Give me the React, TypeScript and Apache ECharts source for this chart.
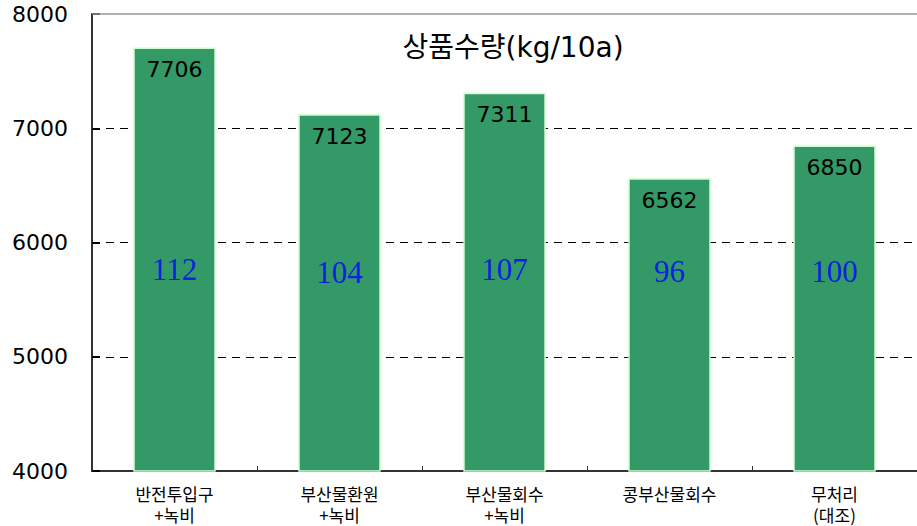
import React, { useEffect, useRef } from "react";
import * as echarts from "echarts";

const categories = ["반전투입구\n+녹비", "부산물환원\n+녹비", "부산물회수\n+녹비", "콩부산물회수", "무처리\n(대조)"];
const yields = [7706, 7123, 7311, 6562, 6850];
const indices = [112, 104, 107, 96, 100];
const indexLevel = [5760, 5735, 5760, 5750, 5750];
const yTicks = [4000, 5000, 6000, 7000, 8000];
const title = "상품수량(kg/10a)";

export default function App() {
  const ref = useRef<HTMLDivElement>(null);
  useEffect(() => {
    const chart = echarts.init(ref.current!, null, { renderer: "svg" });
    const font = "'DejaVu Sans', 'Noto Sans CJK KR', sans-serif";
    const kfont = "'Noto Sans CJK KR', 'DejaVu Sans', sans-serif";
    chart.setOption({
      animation: false,
      title: {
        text: title,
        left: 508,
        top: 28,
        textAlign: "center",
        textStyle: { fontFamily: font, fontSize: 28, fontWeight: "normal", color: "#000" },
      },
      grid: { left: 92, right: -11, top: 14, bottom: 55, containLabel: false },
      xAxis: {
        type: "category",
        data: categories,
        axisLine: { lineStyle: { color: "#333", width: 2 } },
        axisTick: { show: true, inside: true, length: 5, lineStyle: { color: "#333" } },
        axisLabel: { fontFamily: kfont, fontSize: 17, color: "#000", lineHeight: 21, margin: 12 },
      },
      yAxis: {
        type: "value",
        min: 4000,
        max: 8000,
        interval: 1000,
        axisLine: { show: true, lineStyle: { color: "#333", width: 2 } },
        axisTick: { show: true, inside: true, length: 8, lineStyle: { color: "#000", width: 2 } },
        axisLabel: {
          fontFamily: font,
          fontSize: 22,
          color: "#000",
          margin: 24,
          formatter: (v: number) => (yTicks.includes(v) ? String(v) : ""),
        },
        splitLine: {
          show: true,
          lineStyle: { color: ["transparent", "#000", "#000", "#000", "transparent"], type: [8, 6], width: 1 },
        },
      },
      series: [
        {
          type: "bar",
          data: yields,
          barWidth: "50%",
          itemStyle: { color: "#339966", borderColor: "#ccffcc", borderWidth: 1.5 },
          label: {
            show: true,
            position: "insideTop",
            distance: 11,
            fontFamily: font,
            fontSize: 22,
            color: "#000",
          },
          markLine: {
            silent: true,
            symbol: "none",
            label: { show: false },
            lineStyle: { color: "#999", type: "solid", width: 1.5 },
            data: [{ yAxis: 8000 }],
          },
        },
        {
          type: "scatter",
          data: indexLevel.map((v, i) => [i, v]),
          symbolSize: 0,
          itemStyle: { color: "transparent" },
          label: {
            show: true,
            position: "inside",
            formatter: (p: any) => String(indices[p.dataIndex]),
            fontFamily: "'Liberation Serif', 'DejaVu Serif', serif",
            fontSize: 31,
            color: "#0000ff",
          },
        },
      ],
    });
    return () => chart.dispose();
  }, []);
  return <div ref={ref} style={{ width: 917, height: 526, position: "absolute", left: 0, top: 0 }} />;
}
